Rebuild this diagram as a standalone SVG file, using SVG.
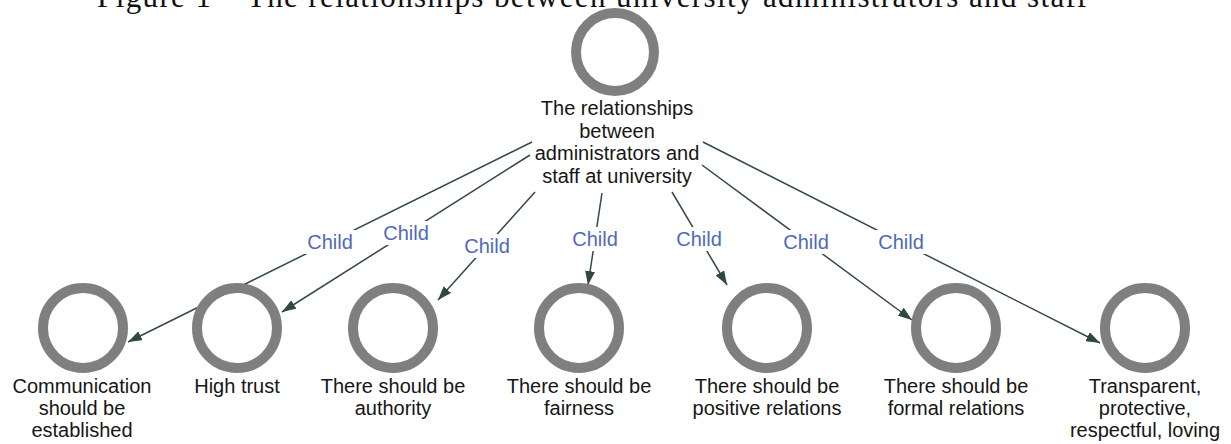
<svg xmlns="http://www.w3.org/2000/svg" width="1231" height="444" viewBox="0 0 1231 444">
  <style>
    .title { font-family: "Liberation Serif", "DejaVu Serif", serif; font-size: 31px; fill: #111; }
    .ring { fill: none; stroke: #7f7f7f; stroke-width: 10; }
    .lbl { font-family: "Liberation Sans", Arial, sans-serif; font-size: 20px; fill: #161616; text-anchor: middle; }
    .edge { stroke: #34493f; stroke-width: 1.5; fill: none; }
    .elbl-bg { fill: #ffffff; }
    .elbl { font-family: "Liberation Sans", Arial, sans-serif; font-size: 20px; fill: #5069b8; text-anchor: middle; }
  </style>
  <defs>
    <marker id="arrow" viewBox="0 0 14 10" refX="14" refY="5" markerWidth="14" markerHeight="10" markerUnits="userSpaceOnUse" orient="auto">
      <path d="M0,0 L14,5 L0,10 z" fill="#2e4a3e"/>
    </marker>
  </defs>

  <rect width="1231" height="444" fill="#ffffff"/>

  <!-- caption, partly above the top edge -->
  <text class="title" x="97" y="7" textLength="990">Figure 1 – The relationships between university administrators and staff</text>

  <!-- connectors: parent to each child, label at the midpoint -->
  <g id="connectors">
    <line class="edge" x1="532" y1="142" x2="128" y2="342" marker-end="url(#arrow)"/>
    <line class="edge" x1="530" y1="155" x2="282" y2="312" marker-end="url(#arrow)"/>
    <line class="edge" x1="535" y1="192" x2="438" y2="300" marker-end="url(#arrow)"/>
    <line class="edge" x1="602" y1="193" x2="588" y2="285" marker-end="url(#arrow)"/>
    <line class="edge" x1="672" y1="192" x2="727" y2="285" marker-end="url(#arrow)"/>
    <line class="edge" x1="702" y1="165" x2="912" y2="320" marker-end="url(#arrow)"/>
    <line class="edge" x1="703" y1="142" x2="1100" y2="343" marker-end="url(#arrow)"/>

    <rect class="elbl-bg" x="303" y="230" width="54" height="24"/>
    <text class="elbl" x="330" y="249">Child</text>
    <rect class="elbl-bg" x="379" y="221" width="54" height="24"/>
    <text class="elbl" x="406" y="240">Child</text>
    <rect class="elbl-bg" x="460" y="234" width="54" height="24"/>
    <text class="elbl" x="487" y="253">Child</text>
    <rect class="elbl-bg" x="568" y="227" width="54" height="24"/>
    <text class="elbl" x="595" y="246">Child</text>
    <rect class="elbl-bg" x="672" y="227" width="54" height="24"/>
    <text class="elbl" x="699" y="246">Child</text>
    <rect class="elbl-bg" x="779" y="230" width="54" height="24"/>
    <text class="elbl" x="806" y="249">Child</text>
    <rect class="elbl-bg" x="874" y="230" width="54" height="24"/>
    <text class="elbl" x="901" y="249">Child</text>
  </g>

  <!-- root -->
  <g id="node-root">
    <circle class="ring" cx="615" cy="52" r="39"/>
    <text class="lbl" x="617" y="115">The relationships</text>
    <text class="lbl" x="617" y="138">between</text>
    <text class="lbl" x="617" y="160">administrators and</text>
    <text class="lbl" x="617" y="183">staff at university</text>
  </g>

  <!-- children -->
  <g id="node-communication">
    <circle class="ring" cx="83" cy="328" r="40"/>
    <text class="lbl" x="82" y="393">Communication</text>
    <text class="lbl" x="82" y="415">should be</text>
    <text class="lbl" x="82" y="437">established</text>
  </g>
  <g id="node-trust">
    <circle class="ring" cx="237" cy="328" r="40"/>
    <text class="lbl" x="237" y="393">High trust</text>
  </g>
  <g id="node-authority">
    <circle class="ring" cx="393" cy="328" r="40"/>
    <text class="lbl" x="393" y="393">There should be</text>
    <text class="lbl" x="393" y="415">authority</text>
  </g>
  <g id="node-fairness">
    <circle class="ring" cx="579" cy="328" r="40"/>
    <text class="lbl" x="579" y="393">There should be</text>
    <text class="lbl" x="579" y="415">fairness</text>
  </g>
  <g id="node-positive">
    <circle class="ring" cx="767" cy="328" r="40"/>
    <text class="lbl" x="767" y="393">There should be</text>
    <text class="lbl" x="767" y="415">positive relations</text>
  </g>
  <g id="node-formal">
    <circle class="ring" cx="956" cy="328" r="40"/>
    <text class="lbl" x="956" y="393">There should be</text>
    <text class="lbl" x="956" y="415">formal relations</text>
  </g>
  <g id="node-transparent">
    <circle class="ring" cx="1145" cy="328" r="40"/>
    <text class="lbl" x="1145" y="393">Transparent,</text>
    <text class="lbl" x="1145" y="415">protective,</text>
    <text class="lbl" x="1145" y="437">respectful, loving</text>
  </g>
</svg>
